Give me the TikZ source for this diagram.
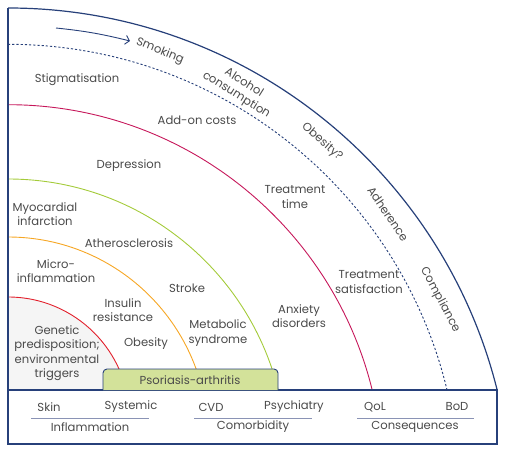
\documentclass[tikz,border=0pt]{standalone}
\usepackage{fontspec}
\setmainfont{Poppins}
\usetikzlibrary{arrows.meta}
\definecolor{navy}{HTML}{27407A}
\definecolor{cred}{HTML}{E2202C}
\definecolor{corange}{HTML}{F6A623}
\definecolor{cgreen}{HTML}{A4CB3A}
\definecolor{ccrimson}{HTML}{C6175A}
\definecolor{boxfill}{HTML}{D3E29A}
\definecolor{txt}{HTML}{4A4A4A}
\definecolor{divider}{HTML}{8A93B5}
\definecolor{innerfill}{HTML}{F5F5F5}
\tikzset{
  lbl/.style={inner sep=0pt, align=center, text=txt, font={\fontsize{11.6}{14.4}\selectfont}},
  ring/.style={line width=0.9pt},
  divline/.style={draw=divider, line width=0.9pt},
}
\begin{document}
\begin{tikzpicture}[x=1pt,y=1pt]
\useasboundingbox (0,0) rectangle (505,453);
% rings, clipped to the upper region
\begin{scope}
\clip (8,63) rectangle (505,453);
\fill[innerfill] (8,63) -- (8,156) arc[start angle=90,end angle=0,radius=121.6] -- (129.6,63) -- cycle;
\draw[ring,cred] (8,156) arc[start angle=90,end angle=0,radius=121.6];
\draw[ring,corange] (8,216) arc[start angle=90,end angle=0,radius=200];
\draw[ring,cgreen] (8,274) arc[start angle=90,end angle=0,radius=278.4];
\draw[ring,ccrimson] (8,348.3) arc[start angle=90,end angle=0,radius=375];
\draw[line width=0.9pt,navy,dash pattern=on 2.2pt off 2pt] (8,408.7) arc[start angle=90,end angle=0,radius=451.5];
\draw[line width=1.2pt,navy] (8,445) arc[start angle=90,end angle=0,radius=504];
\end{scope}
% frame
\draw[line width=1.2pt,navy] (8,445) -- (8,9) -- (497,9) -- (497,63) -- (8,63);
% psoriasis box
\draw[navy,fill=boxfill,line width=0.9pt,rounded corners=4pt] (103,63) -- (103,84) -- (278,84) -- (278,63);
\node[lbl] (psa) at (190,73) {Psoriasis-arthritis};
% arrow
\coordinate (arrS) at (56,425);
\coordinate (arrE) at (130,412);
\draw[navy,line width=0.9pt,-{Straight Barb[length=4pt,width=9pt]}] (arrS) to[bend left=4] (arrE);
% rotated labels
\node[lbl,rotate=-22] (smoking) at (160,402) {Smoking};
\node[lbl,rotate=-32] (alcohol) at (240,364) {Alcohol\\consumption};
\node[lbl,rotate=-41] (obesq) at (322,311) {Obesity?};
\node[lbl,rotate=-56] (adher) at (388,239) {Adherence};
\node[lbl,rotate=-62] (compl) at (440,153) {Compliance};
% plain labels
\node[lbl] (stig) at (77,373) {Stigmatisation};
\node[lbl] (addon) at (197,333) {Add-on costs};
\node[lbl] (depr) at (129,287) {Depression};
\node[lbl] (ttime) at (295,256) {Treatment\\time};
\node[lbl] (myo) at (45,239) {Myocardial\\infarction};
\node[lbl] (ather) at (129,210) {Atherosclerosis};
\node[lbl] (micro) at (56,182) {Micro-\\inflammation};
\node[lbl] (stroke) at (187,165) {Stroke};
\node[lbl] (insulin) at (123,143) {Insulin\\resistance};
\node[lbl] (metab) at (218,120) {Metabolic\\syndrome};
\node[lbl] (obes) at (146,109) {Obesity};
\node[lbl] (genetic) at (57,100) {Genetic\\predisposition;\\environmental\\triggers};
\node[lbl] (tsat) at (369,171) {Treatment\\satisfaction};
\node[lbl] (anx) at (299,137) {Anxiety\\disorders};
% bottom panel
\node[lbl] (skin) at (49,46) {Skin};
\node[lbl] (syst) at (131,46) {Systemic};
\node[lbl] (infl) at (90,26) {Inflammation};
\node[lbl] (cvd) at (211,46) {CVD};
\node[lbl] (psych) at (294,46) {Psychiatry};
\node[lbl] (comor) at (253,26) {Comorbidity};
\node[lbl] (qol) at (375,46) {QoL};
\node[lbl] (bod) at (457,46) {BoD};
\node[lbl] (conseq) at (415,26) {Consequences};
\coordinate (d1a) at (31,35); \coordinate (d1b) at (149,35);
\coordinate (d2a) at (194,35); \coordinate (d2b) at (312,35);
\coordinate (d3a) at (357,35); \coordinate (d3b) at (474,35);
\draw[divline] (d1a) -- (d1b);
\draw[divline] (d2a) -- (d2b);
\draw[divline] (d3a) -- (d3b);
\end{tikzpicture}
\end{document}
